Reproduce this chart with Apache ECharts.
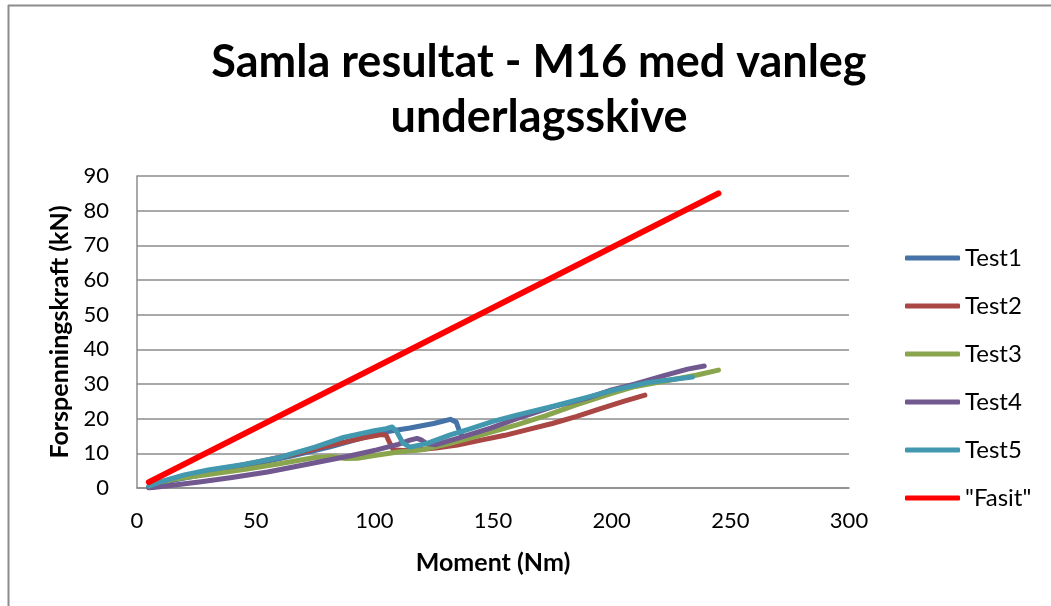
<!DOCTYPE html>
<html>
<head>
<meta charset="utf-8">
<script src="https://cdn.jsdelivr.net/npm/echarts@6/dist/echarts.min.js"></script>
<style>
html,body{margin:0;padding:0;background:#fff;}
#chart{width:1051px;height:606px;}
</style>
</head>
<body>
<div id="chart"></div>
<script>
// ---- data ----
const seriesNames = ["Test1", "Test2", "Test3", "Test4", "Test5", "\"Fasit\""];

const test1X = [5, 15, 30, 50, 65, 81, 95, 105, 115, 125, 132, 134.5, 136, 137];
const test1Y = [0.3, 2.2, 4.2, 7, 9.2, 11.8, 14.5, 16.2, 17.3, 18.6, 19.8, 19, 16.2, 15];

const test2X = [5, 10, 20, 35, 50, 65, 80, 95, 103, 105, 106.5, 108, 112, 118, 126, 135, 145, 155, 165, 175, 185, 195, 205, 214];
const test2Y = [0.2, 1.5, 3.4, 5.4, 7.4, 9.6, 12.1, 14.4, 15.4, 15.2, 13, 11, 10.8, 11, 11.5, 12.4, 13.8, 15.2, 16.9, 18.6, 20.6, 22.8, 25, 26.8];

const test3X = [5, 15, 30, 45, 60, 75, 82, 88, 93, 100, 110, 120, 130, 140, 150, 160, 172, 185, 200, 210, 222, 236, 245];
const test3Y = [0.3, 2.5, 3.9, 5.3, 7, 8.8, 9.1, 8.5, 8.6, 9.4, 10.4, 11, 12.5, 14.3, 16.3, 18.2, 20.8, 24, 27.3, 29.3, 30.8, 32.6, 34];

const test4X = [5, 15, 27, 40, 55, 75, 90, 101, 110, 115, 118, 120, 122, 126, 135, 149, 160, 175, 190, 200, 210, 222, 232, 239];
const test4Y = [0, 0.8, 1.8, 3, 4.6, 7.3, 9.3, 11, 12.6, 13.8, 14.3, 13.8, 12.8, 12.5, 14.3, 17.3, 20, 23.4, 26, 28.3, 30, 32.4, 34.3, 35.2];

const test5X = [5, 10, 20, 30, 45, 60, 75, 87, 100, 105, 107.5, 109.5, 112, 115, 122, 132, 140, 150, 160, 175, 190, 200, 215, 234];
const test5Y = [0.5, 1.8, 3.8, 5.2, 6.8, 8.8, 11.8, 14.6, 16.5, 17.1, 17.6, 16.2, 13, 11.8, 12.8, 15.3, 17, 19.2, 21, 23.5, 26.2, 28.1, 30.4, 32];

const fasitX = [5, 245];
const fasitY = [1.7, 85];

const xTicks = {min: 0, max: 300, interval: 50};
const yTicks = {min: 0, max: 90, interval: 10};

// ---- chart ----
const colors = ["#4572A7", "#AA4643", "#89A54E", "#71588F", "#4198AF", "#FF0000"];
const xs = [test1X, test2X, test3X, test4X, test5X, fasitX];
const ys = [test1Y, test2Y, test3Y, test4Y, test5Y, fasitY];
const FONT = "Lato, 'Open Sans', sans-serif";

const series = seriesNames.map((name, i) => ({
  name: name,
  type: 'line',
  data: xs[i].map((x, j) => [x, ys[i][j]]),
  showSymbol: false,
  symbol: 'none',
  smooth: false,
  z: 2 + i,
  lineStyle: {color: colors[i], width: i === 5 ? 6 : 5, cap: 'round', join: 'round'},
  itemStyle: {color: colors[i]},
  animation: false
}));

const chart = echarts.init(document.getElementById('chart'), null, {renderer: 'canvas'});
chart.setOption({
  animation: false,
  backgroundColor: '#ffffff',
  textStyle: {fontFamily: FONT},
  title: {
    text: 'Samla resultat - M16 med vanleg\nunderlagsskive',
    left: 534,
    top: 30,
    textAlign: 'center',
    textStyle: {fontFamily: FONT, fontWeight: 'bold', fontSize: 45, lineHeight: 55, color: '#000'}
  },
  legend: {
    orient: 'vertical',
    left: 905,
    top: 246,
    padding: 0,
    itemWidth: 55,
    itemHeight: 5,
    itemGap: 24,
    icon: 'roundRect',
    textStyle: {fontFamily: FONT, fontSize: 24, lineHeight: 24, color: '#000'},
    data: seriesNames
  },
  grid: {left: 137, right: 202, top: 176, bottom: 118, containLabel: false},
  xAxis: {
    type: 'value',
    min: xTicks.min, max: xTicks.max, interval: xTicks.interval,
    name: 'Moment (Nm)',
    nameLocation: 'middle',
    nameGap: 62,
    nameTextStyle: {fontFamily: FONT, fontWeight: 'bold', fontSize: 25, color: '#000'},
    axisLine: {show: true, lineStyle: {color: '#8c8c8c', width: 1.5}},
    axisTick: {show: false},
    splitLine: {show: false},
    axisLabel: {fontFamily: FONT, fontSize: 22, color: '#000', margin: 22}
  },
  yAxis: {
    type: 'value',
    min: yTicks.min, max: yTicks.max, interval: yTicks.interval,
    name: 'Forspenningskraft (kN)',
    nameLocation: 'middle',
    nameGap: 64,
    nameTextStyle: {fontFamily: FONT, fontWeight: 'bold', fontSize: 25, color: '#000'},
    axisLine: {show: true, lineStyle: {color: '#8c8c8c', width: 1.5}},
    axisTick: {show: false},
    splitLine: {show: true, lineStyle: {color: '#8c8c8c', width: 1.5}},
    axisLabel: {fontFamily: FONT, fontSize: 22, color: '#000', margin: 28}
  },
  graphic: [
    {type: 'line', shape: {x1: 8, y1: 5.5, x2: 1051, y2: 5.5}, style: {stroke: '#8c8c8c', lineWidth: 2}},
    {type: 'line', shape: {x1: 8.5, y1: 5, x2: 8.5, y2: 606}, style: {stroke: '#8c8c8c', lineWidth: 2}}
  ],
  series: series
});
</script>
</body>
</html>
